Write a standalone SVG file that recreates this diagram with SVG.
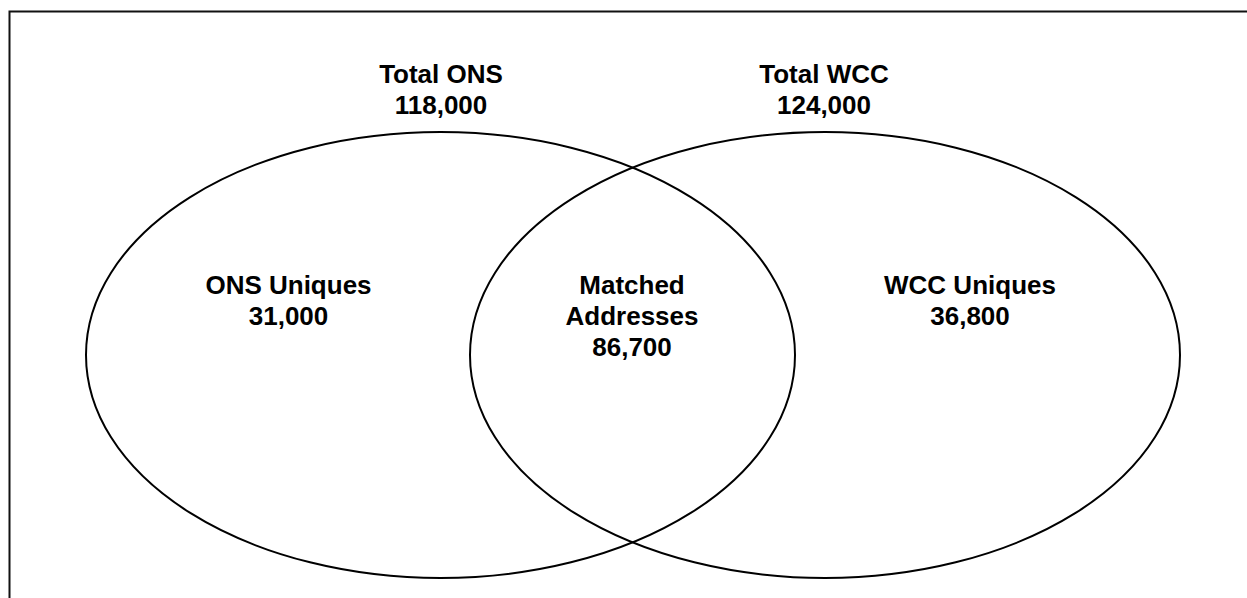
<svg xmlns="http://www.w3.org/2000/svg" width="1247" height="598" viewBox="0 0 1247 598">
<style>
.lbl{font-family:"Liberation Sans",Arial,sans-serif;font-weight:bold;font-size:26px;fill:#000;text-anchor:middle}
.set{fill:none;stroke:#000;stroke-width:2}
</style>
<rect x="0" y="0" width="1247" height="598" fill="#fff"/>
<rect id="frame" x="9.5" y="11.5" width="1400" height="700" fill="none" stroke="#111" stroke-width="2"/>
<g id="ons">
<ellipse class="set" cx="440.5" cy="355" rx="354.5" ry="223"/>
</g>
<g id="wcc">
<ellipse class="set" cx="825" cy="355" rx="355" ry="223"/>
</g>
<g id="total-ons"><text class="lbl" x="441" y="83">Total ONS</text><text class="lbl" x="441" y="114">118,000</text></g>
<g id="total-wcc"><text class="lbl" x="824" y="83">Total WCC</text><text class="lbl" x="824" y="114">124,000</text></g>
<g id="ons-uniques"><text class="lbl" x="288.5" y="294">ONS Uniques</text><text class="lbl" x="288.5" y="325">31,000</text></g>
<g id="matched"><text class="lbl" x="632" y="294">Matched</text><text class="lbl" x="632" y="325">Addresses</text><text class="lbl" x="632" y="356">86,700</text></g>
<g id="wcc-uniques"><text class="lbl" x="970" y="294">WCC Uniques</text><text class="lbl" x="970" y="325">36,800</text></g>
<g id="connectors"></g>
</svg>
